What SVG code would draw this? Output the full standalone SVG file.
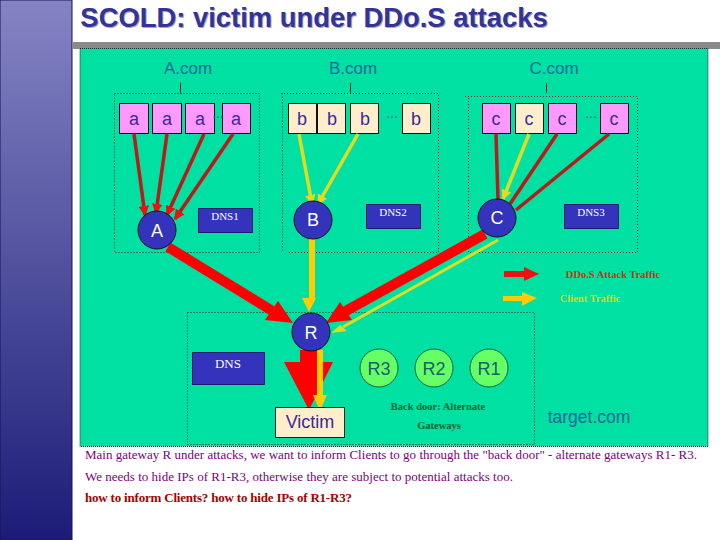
<svg xmlns="http://www.w3.org/2000/svg" width="720" height="540" viewBox="0 0 720 540">
<defs>
<linearGradient id="band" x1="0" y1="0" x2="0" y2="1"><stop offset="0" stop-color="#8484c4"/><stop offset="1" stop-color="#1c1c78"/></linearGradient>
<marker id="hr" markerWidth="3" markerHeight="3" refX="2.600" refY="1.500" orient="auto"><path d="M0,0L3,1.500L0,3z" fill="#ee1111"/></marker>
<marker id="hy" markerWidth="3" markerHeight="3" refX="2.600" refY="1.500" orient="auto"><path d="M0,0L3,1.500L0,3z" fill="#e8d820"/></marker>
</defs>
<style>
text{font-family:"Liberation Sans",Arial,sans-serif;text-anchor:middle}
.dom{font-size:17px;fill:#0f6a96}
.box{stroke:#111;stroke-width:1}
.p{fill:#ff99ff}.y{fill:#ffeecb}
.bt{font-size:18px;fill:#3a2a9a}
.ell{font-size:14px;fill:#0f6a96}
.dots{fill:none;stroke:#222;stroke-width:1;stroke-dasharray:1 2}
.n circle{fill:#3333bb;stroke:#111}
.n text{font-size:18px;fill:#fff}
.dns rect{fill:#3333bb;stroke:#1a1a70}
.dns text{font-family:"Liberation Serif",serif;font-size:11px;fill:#fff}
.g circle{fill:#66ff66;stroke:#116644}
.g text{font-size:18px;fill:#17616f}
.ar{stroke:#bb1a1a;stroke-width:3.500;fill:none;marker-end:url(#hr)}
.ay{stroke:#e0dc20;stroke-width:3.500;fill:none;marker-end:url(#hy)}
.s{font-family:"Liberation Serif",serif}
.note{font-family:"Liberation Serif",serif;text-anchor:start;font-size:13px;fill:#800080}
.lbl{font-family:"Liberation Serif",serif;font-size:10.500px;font-weight:bold}
.title{font-size:27.400px;font-weight:bold}
</style>
<rect width="720" height="540" fill="#fff"/>
<rect x="0" y="0" width="72" height="540" fill="url(#band)" stroke="#15155a"/>
<rect x="72" y="42" width="648" height="7" fill="#8a8a8a"/>
<text class="title" x="315" y="28" fill="#a8a8b8">SCOLD: victim under DDo.S attacks</text>
<text class="title" x="314" y="27" fill="#333399">SCOLD: victim under DDo.S attacks</text>
<rect x="80" y="48.500" width="628" height="398" fill="#00e0a2" stroke="#222" stroke-dasharray="1 1"/>
<g id="labels">
<text class="dom" x="188" y="74">A.com</text><text class="dom" x="353" y="74">B.com</text><text class="dom" x="554" y="74">C.com</text>
<path d="M180.500 83V93M350.500 83V93M546.500 83V93" stroke="#222" fill="none"/>
<path class="dots" d="M114.500 93.500H259.500V252.500H114.500Z"/>
<path class="dots" d="M281 93.500H438.500V252.500H288"/><path class="dots" d="M282.500 93.500V252"/>
<path class="dots" d="M465 96.500H637.500V252.500H468.500V96.500"/>
<path class="dots" d="M187.500 312.500H534.500V444.500H187.500Z"/>
</g>
<g id="a-hosts">
<rect class="box p" x="119.500" y="103.500" width="29" height="30"/><text class="bt" x="134" y="125">a</text>
<rect class="box p" x="152.500" y="103.500" width="29" height="30"/><text class="bt" x="167" y="125">a</text>
<rect class="box p" x="185.500" y="103.500" width="29" height="30"/><text class="bt" x="200" y="125">a</text>
<rect class="box p" x="222.500" y="103.500" width="28" height="30"/><text class="bt" x="236" y="125">a</text>
<text class="ell" x="218" y="118">...</text>
</g>
<g id="b-hosts">
<rect class="box y" x="288.500" y="103.500" width="28" height="30"/><text class="bt" x="302" y="125">b</text>
<rect class="box y" x="317.500" y="103.500" width="28" height="30"/><text class="bt" x="332" y="125">b</text>
<rect class="box y" x="350.500" y="103.500" width="28" height="30"/><text class="bt" x="365" y="125">b</text>
<rect class="box y" x="402.500" y="103.500" width="28" height="30"/><text class="bt" x="416" y="125">b</text>
<text class="ell" x="392" y="118">...</text>
</g>
<g id="c-hosts">
<rect class="box p" x="482.500" y="103.500" width="28" height="30"/><text class="bt" x="496" y="125">c</text>
<rect class="box y" x="515.500" y="103.500" width="28" height="30"/><text class="bt" x="529" y="125">c</text>
<rect class="box p" x="548.500" y="103.500" width="28" height="30"/><text class="bt" x="562" y="125">c</text>
<rect class="box p" x="600.500" y="103.500" width="28" height="30"/><text class="bt" x="614" y="125">c</text>
<text class="ell" x="591" y="118">...</text>
</g>
<g id="connectors">
<path class="ar" d="M134 134L145 215"/><path class="ar" d="M167 134L156 213"/><path class="ar" d="M204 134L167 215"/><path class="ar" d="M233 134L175 219"/>
<path class="ay" d="M299 134L312 204"/><path class="ay" d="M358 134L318 204"/>
<path d="M496 134L498 200M557 134L510 204M609 134L516 210" stroke="#bb1a1a" stroke-width="3.500" fill="none"/>
<path class="ay" d="M529 134L503 199"/>
<path d="M168 247L274 312" stroke="#ff0000" stroke-width="10" fill="none"/><path d="M265 320L278 301L293 323z" fill="#ff0000"/>
<path d="M485 234L344 312" stroke="#ff0000" stroke-width="10" fill="none"/><path d="M340 302L326 323L352 320z" fill="#ff0000"/>
<path d="M498 240L343 327" stroke="#e0dc20" stroke-width="3" fill="none"/><path d="M340 325L347 331L331 333z" fill="#e0dc20"/>
<path d="M312 233V300" stroke="#ffcc00" stroke-width="6" fill="none"/><path d="M302 298H316L309 312z" fill="#ffcc00"/>
<path d="M300 350H318V362H333L309 410L284 362H300z" fill="#ff0000"/>
<path d="M320 350V396" stroke="#ffcc00" stroke-width="6" fill="none"/><path d="M313 395H327L320 411z" fill="#ffcc00"/>
<path d="M504 271H524V267L539 274L524 281V277H504z" fill="#ee1111"/>
<path d="M503 296H522V292L537 298L522 306V301H503z" fill="#ffcc00"/>
</g>
<g id="A" class="n"><circle cx="157" cy="230" r="19"/><text x="157" y="237">A</text></g>
<g id="B" class="n"><circle cx="313" cy="220" r="19"/><text x="313" y="226">B</text></g>
<g id="C" class="n"><circle cx="497" cy="218" r="19"/><text x="497" y="224">C</text></g>
<g id="R" class="n"><circle cx="311" cy="332" r="19"/><text x="311" y="339">R</text></g>
<g id="DNS1" class="dns"><rect x="198.500" y="208.500" width="54" height="24"/><text x="225" y="220">DNS1</text></g>
<g id="DNS2" class="dns"><rect x="366.500" y="204.500" width="54" height="24"/><text x="393" y="216">DNS2</text></g>
<g id="DNS3" class="dns"><rect x="564.500" y="204.500" width="54" height="24"/><text x="591" y="216">DNS3</text></g>
<g id="DNS" class="dns"><rect x="192.500" y="352.500" width="72" height="32"/><text x="228" y="368" style="font-size:13px">DNS</text></g>
<g id="R3" class="g"><circle cx="379" cy="368" r="19"/><text x="379" y="375">R3</text></g>
<g id="R2" class="g"><circle cx="434" cy="368" r="19"/><text x="434" y="375">R2</text></g>
<g id="R1" class="g"><circle cx="489" cy="368" r="19"/><text x="489" y="375">R1</text></g>
<g id="Victim"><rect x="275.500" y="407.500" width="69" height="30" fill="#ffeecb" stroke="#222"/><text x="310" y="428" style="font-size:18px;fill:#3a2a9a">Victim</text></g>
<g id="texts">
<text class="lbl" x="438" y="410" fill="#063">Back door: Alternate</text>
<text class="lbl" x="439" y="429" fill="#063">Gateways</text>
<text x="589" y="423" style="font-size:17.500px;fill:#0f6a96">target.com</text>
<text class="lbl" x="613" y="278" fill="#cc3311">DDo.S Attack Traffic</text>
<text class="lbl" x="590" y="302" fill="#d8d820">Client Traffic</text>
<text class="note" x="85" y="459" textLength="612">Main gateway R under attacks, we want to inform Clients to go through the "back door" - alternate gateways R1- R3.</text>
<text class="note" x="85" y="481" textLength="428">We needs to hide IPs of R1-R3, otherwise they are subject to potential attacks too.</text>
<text class="note" x="85" y="502" textLength="267" style="font-weight:bold;fill:#aa0000">how to inform Clients? how to hide  IPs of R1-R3?</text>
</g>
</svg>
